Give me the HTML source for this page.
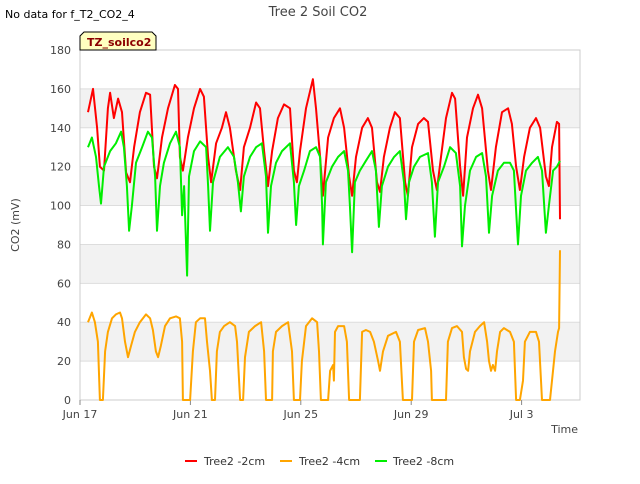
<!DOCTYPE html>
<html><head><meta charset="utf-8"><style>
body{margin:0;background:#fff;font-family:"DejaVu Sans","Liberation Sans",sans-serif;}
svg text{font-family:"DejaVu Sans","Liberation Sans",sans-serif;}
</style></head><body>
<svg id="chart" width="640" height="480" viewBox="0 0 640 480">
<rect x="0" y="0" width="640" height="480" fill="#fff"/>
<g id="bands"></g>
<g id="grid"></g>
<rect x="80" y="50" width="500" height="350" fill="none" stroke="#ccc"/>
<g id="yticks"></g>
<g id="xticks"></g>
<g id="series"></g>
<text x="318" y="16" text-anchor="middle" font-size="13" fill="#444">Tree 2 Soil CO2</text>
<text x="5" y="18" font-size="11" fill="#000">No data for f_T2_CO2_4</text>
<path d="M80,50 L80,36 L84,32 L152,32 L156,36 L156,50 Z" fill="#ffffc0" stroke="#000" stroke-width="1"/>
<text x="87" y="46" font-size="11" font-weight="bold" fill="#8b0000">TZ_soilco2</text>
<text x="19" y="225" font-size="11" fill="#444" text-anchor="middle" transform="rotate(-90 19 225)">CO2 (mV)</text>
<text x="578" y="433" font-size="11" fill="#444" text-anchor="end">Time</text>
<g>
<line x1="185" y1="461" x2="197" y2="461" stroke="#ff0000" stroke-width="2"/>
<text x="204" y="465" font-size="11" fill="#333">Tree2 -2cm</text>
<line x1="280" y1="461" x2="292" y2="461" stroke="#ffa500" stroke-width="2"/>
<text x="299" y="465" font-size="11" fill="#333">Tree2 -4cm</text>
<line x1="375" y1="461" x2="387" y2="461" stroke="#00ee00" stroke-width="2"/>
<text x="393" y="465" font-size="11" fill="#333">Tree2 -8cm</text>
</g>
</svg>
<script>
const yTicks=[0,20,40,60,80,100,120,140,160,180];
const xTickDays=[0,4,8,12,16];
const xTickLabels=["Jun 17","Jun 21","Jun 25","Jun 29","Jul 3"];
const redT=[0.29,0.47,0.62,0.72,0.87,1.01,1.09,1.23,1.38,1.52,1.67,1.81,1.96,2.17,2.39,2.54,2.68,2.79,2.97,3.19,3.44,3.55,3.62,3.73,3.91,4.13,4.35,4.49,4.64,4.75,4.93,5.14,5.29,5.43,5.65,5.80,5.94,6.16,6.38,6.52,6.67,6.81,6.96,7.17,7.39,7.61,7.75,7.86,7.97,8.19,8.44,8.55,8.70,8.80,8.99,9.20,9.42,9.57,9.75,9.86,10.00,10.22,10.43,10.58,10.76,10.87,11.01,11.23,11.41,11.59,11.78,11.88,12.03,12.25,12.46,12.61,12.79,12.93,13.08,13.26,13.48,13.59,13.77,13.88,14.02,14.24,14.42,14.57,14.78,14.89,15.07,15.29,15.51,15.65,15.80,15.94,16.09,16.30,16.52,16.67,16.88,16.99,17.10,17.28,17.36,17.39];
const redV=[148,160,140,120,118,150,158,145,155,148,117,112,130,148,158,157,120,114,135,150,162,160,125,118,135,150,160,156,125,112,132,140,148,140,118,108,130,140,153,150,128,110,128,145,152,150,118,112,128,150,165,150,125,105,135,145,150,140,115,105,125,140,145,140,112,107,125,140,148,145,112,105,130,142,145,143,118,108,125,145,158,155,120,105,135,150,157,150,118,108,130,148,150,142,120,108,125,140,145,140,115,110,130,143,142,93];
const greenT=[0.29,0.43,0.58,0.69,0.76,0.87,1.09,1.30,1.49,1.59,1.70,1.78,1.88,2.03,2.25,2.46,2.61,2.72,2.79,2.90,3.04,3.26,3.48,3.62,3.70,3.77,3.88,3.95,4.13,4.35,4.57,4.64,4.71,4.82,5.07,5.36,5.58,5.72,5.83,5.94,6.16,6.38,6.59,6.74,6.81,6.92,7.10,7.32,7.61,7.75,7.83,7.93,8.12,8.33,8.55,8.70,8.77,8.80,8.91,9.13,9.35,9.57,9.71,9.78,9.86,9.96,10.14,10.36,10.58,10.72,10.83,10.94,11.16,11.38,11.59,11.74,11.81,11.92,12.10,12.32,12.61,12.75,12.86,12.97,13.19,13.41,13.62,13.77,13.84,13.95,14.13,14.35,14.57,14.71,14.82,14.93,15.14,15.36,15.58,15.72,15.87,15.98,16.16,16.38,16.59,16.74,16.88,16.99,17.14,17.28,17.39];
const greenV=[130,135,125,110,101,120,128,132,138,130,110,87,100,122,130,138,135,115,87,110,122,132,138,130,95,110,64,115,128,133,130,110,87,112,125,130,125,112,97,115,125,130,132,115,86,110,122,128,132,112,90,110,118,128,130,125,100,80,112,120,125,128,118,100,76,112,118,123,128,118,89,110,120,125,128,112,93,112,120,125,127,112,84,112,120,130,127,110,79,100,118,125,127,115,86,105,118,122,122,118,80,105,118,122,125,118,86,100,118,120,123];
const orangeT=[0.29,0.43,0.54,0.65,0.72,0.83,0.91,1.01,1.16,1.30,1.45,1.52,1.63,1.74,1.85,1.99,2.17,2.39,2.54,2.64,2.75,2.83,2.93,3.08,3.26,3.48,3.62,3.70,3.73,3.99,4.09,4.20,4.35,4.53,4.60,4.71,4.78,4.89,4.96,5.07,5.22,5.43,5.62,5.69,5.80,5.91,5.98,6.12,6.34,6.56,6.67,6.74,6.96,6.99,7.10,7.32,7.54,7.68,7.75,7.97,8.04,8.19,8.41,8.59,8.66,8.73,8.99,9.06,9.17,9.20,9.24,9.35,9.57,9.67,9.75,10.14,10.22,10.36,10.51,10.65,10.80,10.87,10.98,11.16,11.45,11.59,11.70,12.03,12.10,12.25,12.50,12.61,12.72,12.75,13.26,13.33,13.48,13.66,13.84,13.91,13.99,14.06,14.13,14.31,14.49,14.64,14.75,14.82,14.89,14.96,15.04,15.11,15.22,15.36,15.58,15.72,15.80,15.94,16.05,16.12,16.30,16.52,16.63,16.74,17.03,17.10,17.21,17.32,17.36,17.39];
const orangeV=[40,45,40,30,0,0,25,35,42,44,45,42,30,22,28,35,40,44,42,36,25,22,28,38,42,43,42,30,0,0,25,40,42,42,30,15,0,0,25,35,38,40,38,30,0,0,22,35,38,40,25,0,0,25,35,38,40,25,0,0,20,38,42,40,25,0,0,15,18,10,35,38,38,30,0,0,35,36,35,30,20,15,25,33,35,30,0,0,30,36,37,30,15,0,0,30,37,38,35,22,16,15,25,35,38,40,30,20,15,18,15,25,35,37,35,30,0,0,10,30,35,35,30,0,0,10,25,35,37,77];
const NS="http://www.w3.org/2000/svg";
const X0=80,PXD=27.6,Y0=400,YMAX=180,H=350;
const xs=d=>X0+d*PXD;
const ys=v=>Y0-v*H/YMAX;
const bands=document.getElementById('bands'),grid=document.getElementById('grid'),yt=document.getElementById('yticks'),xt=document.getElementById('xticks'),ser=document.getElementById('series');
for(let i=1;i<yTicks.length;i+=2){
  const r=document.createElementNS(NS,'rect');
  r.setAttribute('x',80);r.setAttribute('width',500);
  r.setAttribute('y',ys(yTicks[i+1]));r.setAttribute('height',ys(yTicks[i])-ys(yTicks[i+1]));
  r.setAttribute('fill','#f2f2f2');
  
  
  bands.appendChild(r);
}
yTicks.forEach(v=>{
  const l=document.createElementNS(NS,'line');
  l.setAttribute('x1',80);l.setAttribute('x2',580);l.setAttribute('y1',ys(v));l.setAttribute('y2',ys(v));
  l.setAttribute('stroke','#ddd');
  
  
  grid.appendChild(l);
  const t=document.createElementNS(NS,'text');
  t.setAttribute('x',71);t.setAttribute('y',ys(v)+4);t.setAttribute('text-anchor','end');t.setAttribute('font-size','11');t.setAttribute('fill','#444');
  t.textContent=v;
  
  
  yt.appendChild(t);
});
xTickDays.forEach((d,i)=>{
  const l=document.createElementNS(NS,'line');
  l.setAttribute('x1',xs(d));l.setAttribute('x2',xs(d));l.setAttribute('y1',400);l.setAttribute('y2',405);l.setAttribute('stroke','#888');
  
  
  xt.appendChild(l);
  const t=document.createElementNS(NS,'text');
  t.setAttribute('x',xs(d));t.setAttribute('y',418);t.setAttribute('text-anchor','middle');t.setAttribute('font-size','11');t.setAttribute('fill','#444');
  t.textContent=xTickLabels[i];
  
  
  xt.appendChild(t);
});
function line(T,V,color,name){
  const p=document.createElementNS(NS,'polyline');
  p.setAttribute('points',T.map((d,i)=>xs(d).toFixed(1)+','+ys(V[i]).toFixed(1)).join(' '));
  p.setAttribute('fill','none');p.setAttribute('stroke',color);p.setAttribute('stroke-width','2');p.setAttribute('stroke-linejoin','round');
  
  
  ser.appendChild(p);
}
line(orangeT,orangeV,'#ffa500','series-tree2-4cm');
line(redT,redV,'#ff0000','series-tree2-2cm');
line(greenT,greenV,'#00ee00','series-tree2-8cm');
</script>
</body></html>
